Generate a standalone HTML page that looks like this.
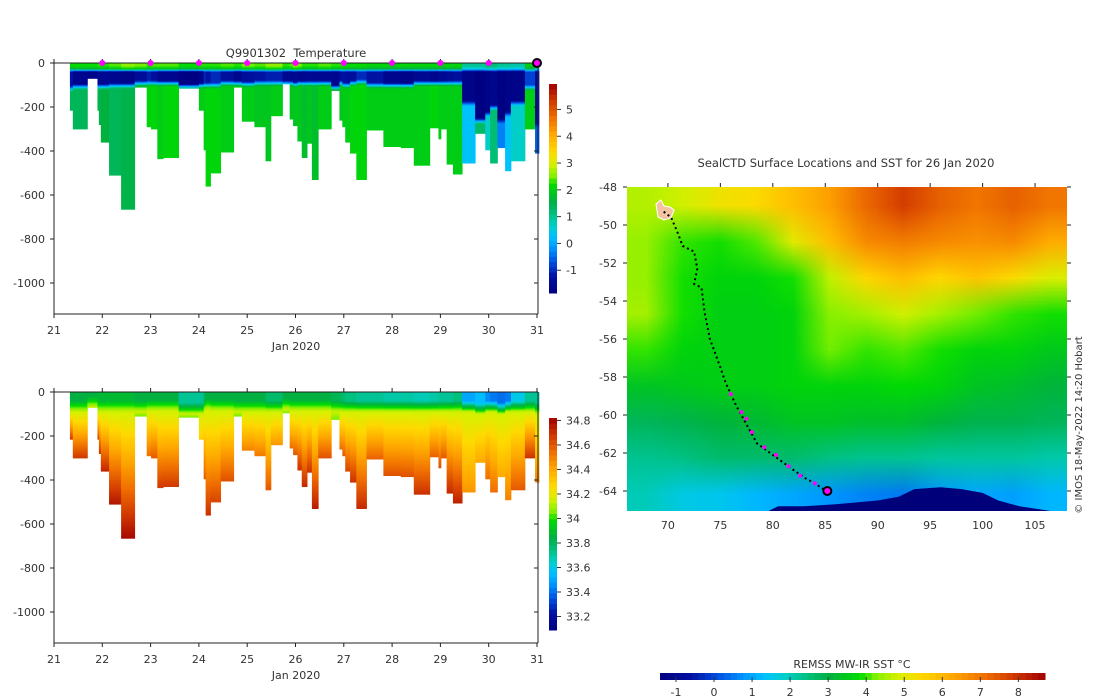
<!DOCTYPE html>
<html><head><meta charset="utf-8">
<style>
html,body{margin:0;padding:0;background:#fff;}
#wrap{position:relative;width:1100px;height:700px;overflow:hidden;font-family:"DejaVu Sans","Liberation Sans",sans-serif;}
svg{position:absolute;left:0;top:0;}
#sst{position:absolute;left:627px;top:187px;width:440px;height:324px;}
text{font-family:"DejaVu Sans","Liberation Sans",sans-serif;fill:#333;font-size:11px;white-space:pre;}
</style></head>
<body>
<div id="wrap">
<canvas id="sst" width="12" height="9"></canvas>
<svg id="svg" width="1100" height="700" viewBox="0 0 1100 700"></svg>
</div>
<script>
// ---- profile data (section plots) ----
const profTime  = [21.33,21.39,21.69,21.90,21.93,21.97,22.14,22.39,22.67,22.92,23.01,23.14,23.26,23.58,24.00,24.10,24.14,24.24,24.45,24.72,24.89,25.15,25.38,25.49,25.73,25.88,25.95,26.04,26.13,26.24,26.34,26.47,26.74,26.91,26.97,27.03,27.13,27.26,27.47,27.82,28.18,28.45,28.78,28.96,29.01,29.13,29.26,29.45,29.72,29.93,30.03,30.18,30.34,30.46,30.75,30.96];
const profDepth = [215,300,70,215,280,360,510,665,110,290,300,435,430,115,215,395,560,500,405,110,265,290,445,240,95,255,285,355,430,365,530,300,125,260,290,360,410,530,305,380,385,465,295,345,300,460,505,455,320,395,455,385,490,445,300,410];
const tSurf     = [2.2,2.2,2.2,2.3,2.3,2.3,2.4,2.6,2.5,2.3,2.4,2.4,2.4,2.2,2.3,2.3,2.3,2.3,2.4,2.3,2.5,2.4,2.6,2.6,2.3,2.4,2.6,2.5,2.3,2.3,2.3,2.4,2.3,2.3,2.3,2.2,2.2,2.2,2.1,2.1,2.1,2.1,2.1,2.1,2.1,2.1,2.1,1.0,1.0,1.2,1.2,1.0,1.0,0.9,2.0,1.2];
const tMin      = [-1.2,-1.6,-1.7,-1.5,-1.5,-1.5,-1.6,-1.7,-1.4,-1.1,-1.3,-1.6,-1.6,-1.8,-1.7,-1.0,-1.2,-1.0,-1.3,-1.6,-1.3,-1.2,-1.1,-1.1,-1.5,-1.6,-1.5,-1.6,-1.6,-1.5,-1.5,-1.5,-1.6,-1.3,-1.2,-1.3,-1.3,-1.0,-1.2,-1.6,-1.7,-1.5,-1.6,-1.5,-1.5,-1.4,-1.3,-1.7,-1.8,-1.7,-1.6,-1.8,-1.7,-1.7,-0.8,-1.4];
const coldBot   = [105,95,95,95,95,95,90,90,80,80,80,80,80,95,90,90,90,90,80,80,85,80,80,80,80,80,85,80,80,80,80,80,100,80,90,90,80,75,90,90,90,80,80,80,80,80,80,170,250,220,190,250,220,170,100,270];
const tDeep     = [1.4,1.4,1.4,1.5,1.5,1.6,1.4,1.5,1.8,2.1,2.1,2.0,2.1,2.0,2.0,2.0,2.1,2.1,2.0,2.0,2.0,1.9,1.9,2.0,2.0,1.9,1.9,1.9,1.8,1.9,1.8,2.0,2.0,1.9,2.0,2.0,2.1,2.1,2.0,2.0,2.0,2.0,2.1,2.0,2.0,2.0,2.0,0.3,1.3,0.7,1.2,-0.3,0.3,0.7,2.0,-0.6];
const sSurf     = [33.85,33.85,33.85,33.88,33.88,33.88,33.88,33.88,33.85,33.85,33.85,33.85,33.85,33.72,33.72,33.82,33.85,33.85,33.85,33.85,33.85,33.85,33.78,33.78,33.85,33.85,33.85,33.85,33.85,33.85,33.85,33.85,33.82,33.80,33.78,33.75,33.75,33.72,33.72,33.70,33.70,33.68,33.70,33.72,33.72,33.72,33.75,33.50,33.55,33.45,33.42,33.40,33.42,33.60,33.72,33.72];
const haloDepth = [60,60,40,60,60,60,60,60,60,55,55,55,55,70,70,55,50,55,55,60,60,60,60,60,50,55,55,55,55,55,55,55,60,60,60,60,60,60,60,60,60,60,60,60,60,60,60,60,70,60,60,70,60,60,60,70];
const sBottom   = [34.68,34.68,34.00,34.68,34.70,34.73,34.77,34.80,34.05,34.55,34.60,34.68,34.68,34.05,34.30,34.60,34.70,34.65,34.62,34.05,34.50,34.52,34.60,34.45,34.05,34.55,34.60,34.70,34.72,34.70,34.75,34.62,34.05,34.55,34.60,34.65,34.70,34.72,34.58,34.62,34.62,34.70,34.58,34.62,34.60,34.72,34.74,34.45,34.40,34.55,34.55,34.40,34.50,34.60,34.70,34.50];
const endTime = 31.04;
const markerDays = [22,23,24,25,26,27,28,29,30];
const dayTicks = [21,22,23,24,25,26,27,28,29,30,31];
const depthTicks = [0,-200,-400,-600,-800,-1000];
const tempCbTicks = [-1,0,1,2,3,4,5];
const salCbTicks = [33.2,33.4,33.6,33.8,34,34.2,34.4,34.6,34.8];
const sstCbTicks = [-1,0,1,2,3,4,5,6,7,8];
const lonTicks = [70,75,80,85,90,95,100,105];
const latTicks = [-48,-50,-52,-54,-56,-58,-60,-62,-64];
// SST grid: rows from -48 (north) to -65, cols from 66E to 108E
const sstGrid = [
 [4.6,4.8,5.2,5.4,5.9,6.4,7.2,7.8,7.3,7.0,7.3,7.0],
 [4.4,4.0,3.9,4.1,5.0,5.9,6.7,6.9,6.7,6.6,6.7,6.2],
 [4.4,3.9,3.7,3.7,3.9,4.7,5.5,5.9,5.5,5.8,5.4,4.9],
 [4.5,3.9,3.6,3.6,3.7,4.3,4.5,4.8,4.5,4.2,4.0,3.9],
 [4.0,3.7,3.6,3.6,3.7,4.2,4.0,4.1,3.9,3.7,3.7,3.5],
 [3.4,3.5,3.6,3.6,3.7,3.7,3.7,3.8,3.7,3.4,3.3,3.1],
 [2.8,2.9,3.1,3.2,3.4,3.4,3.3,3.3,3.1,2.9,2.9,2.8],
 [2.3,2.4,2.6,2.6,2.6,2.4,2.3,2.3,2.2,2.2,2.2,2.1],
 [2.0,1.6,1.5,1.2,1.0,0.8,0.6,0.5,0.8,1.0,0.9,1.2]
];
const trackLon = [69.6,70.3,71.0,71.4,72.5,72.8,72.5,73.2,73.5,74.0,75.0,75.5,76.5,77.5,78.5,80.0,81.5,83.0,84.0,85.1];
const trackLat = [-49.3,-49.6,-50.5,-51.1,-51.4,-52.3,-53.1,-53.3,-54.6,-56.0,-57.5,-58.3,-59.5,-60.5,-61.5,-62.1,-62.7,-63.3,-63.6,-64.0];
const magLon = [76.0,77.0,77.5,78.0,79.2,80.3,81.5,82.6,84.0];
const magLat = [-58.9,-59.85,-60.2,-60.9,-61.7,-62.1,-62.7,-63.2,-63.6];
const iceLon = [79.6,80.5,83,86,88,90,92,93.5,96,98,100,101.5,103.5,106.5];
const iceLat = [-65.1,-64.8,-64.8,-64.7,-64.6,-64.5,-64.3,-63.9,-63.8,-63.9,-64.1,-64.5,-64.8,-65.1];

// ---- colormap ----
const stops=[[0,'#000080'],[0.08,'#0010a0'],[0.15,'#0050e0'],[0.22,'#0098ff'],[0.27,'#00c0ff'],[0.32,'#00d0d0'],[0.38,'#00c080'],[0.44,'#00b040'],[0.52,'#00dc00'],[0.56,'#80f000'],[0.62,'#d8f000'],[0.68,'#ffd800'],[0.76,'#ffa800'],[0.84,'#f07000'],[0.92,'#d03800'],[1,'#a00000']];
function hx(c){return [parseInt(c.slice(1,3),16),parseInt(c.slice(3,5),16),parseInt(c.slice(5,7),16)];}
function cmapRGB(f){f=Math.max(0,Math.min(1,f));for(let i=1;i<stops.length;i++){if(f<=stops[i][0]){const a=stops[i-1],b=stops[i];const t=(f-a[0])/(b[0]-a[0]);const ca=hx(a[1]),cb=hx(b[1]);return ca.map((v,k)=>Math.round(v+(cb[k]-v)*t));}}return hx(stops[stops.length-1][1]);}
function cmap(f){const c=cmapRGB(f);return `rgb(${c[0]},${c[1]},${c[2]})`;}

const NS='http://www.w3.org/2000/svg';
const svg=document.getElementById('svg');
function el(tag,attrs,parent){const e=document.createElementNS(NS,tag);for(const k in attrs)e.setAttribute(k,attrs[k]);(parent||svg).appendChild(e);return e;}
function txt(x,y,s,anchor,parent,size){const t=el('text',{x:x,y:y,'text-anchor':anchor||'middle'},parent);if(size)t.style.fontSize=size+'px';t.textContent=s;return t;}

// axis functions
const X=d=>54+(d-21)*48.3;
const Y1=z=>63+(-z)*0.22;
const Y2=z=>392+(-z)*0.22;
const tempF=v=>(v+1.85)/7.8;
const salF=v=>(v-33.09)/1.73;
const sstF=v=>(v+1.42)/10.12;
const LX=lon=>627+(lon-66.1)*10.49;
const LY=lat=>187+(-48-lat)*19;

function lerp(a,b,t){return a+(b-a)*Math.max(0,Math.min(1,t));}
function tempAt(i,z){
  const s=tSurf[i],m=tMin[i],cb=coldBot[i],d=tDeep[i];
  if(z<15)return s;
  if(z<28)return lerp(s,s-0.6,(z-15)/13);
  if(z<40)return lerp(s-0.6,m,(z-28)/12);
  if(z<cb)return m;
  if(z<cb+25)return lerp(m,d,(z-cb)/25);
  return d;
}
function salAt(i,z){
  const s=sSurf[i],h=haloDepth[i],b=sBottom[i],D=profDepth[i];
  if(z<h-20)return s;
  if(z<h+30)return lerp(s,34.15,(z-(h-20))/50);
  return lerp(34.15,b,(z-(h+30))/Math.max(1,D-(h+30)));
}

function section(Yf,valAt,fF,name){
  const g=el('g',{});
  
  
  for(let i=0;i<profTime.length;i++){
    const x0=X(profTime[i]), x1=X(i+1<profTime.length?profTime[i+1]:endTime);
    const D=profDepth[i];
    for(let z=0;z<D;z+=5){
      const z1=Math.min(D,z+5);
      const r=el('rect',{x:x0.toFixed(2),y:Yf(-z).toFixed(2),width:(x1-x0+0.4).toFixed(2),height:(Yf(-z1)-Yf(-z)+0.4).toFixed(2),fill:cmap(fF(valAt(i,z+2.5)))},g);
      
      
    }
  }
}

function axesBox(Yf,top,bottom,label){
  const g=el('g',{stroke:'#222','stroke-width':1,fill:'none'});
  
  
  el('line',{x1:54,y1:top,x2:54,y2:bottom},g);
  el('line',{x1:54,y1:bottom,x2:538,y2:bottom},g);
  el('line',{x1:538,y1:top,x2:538,y2:bottom},g);
  el('line',{x1:54,y1:top,x2:538,y2:top},g);
  for(const d of dayTicks){el('line',{x1:X(d),y1:bottom,x2:X(d),y2:bottom+4},g);el('line',{x1:X(d),y1:top,x2:X(d),y2:top-4},g);}
  for(const v of depthTicks){const y=Yf(v);el('line',{x1:50,y1:y,x2:54,y2:y},g);el('line',{x1:534,y1:y,x2:538,y2:y},g);}
  const tg=el('g',{});
  
  
  for(const d of dayTicks)txt(X(d),bottom+20,String(d),'middle',tg);
  for(const v of depthTicks)txt(45,Yf(v)+4,String(v),'end',tg);
  const xl=txt(296,bottom+36,'Jan 2020','middle');
  
  
}

function vColorbar(x,y0,y1,vmin,vmax,ticks,name){
  const g=el('g',{});
  
  
  const n=40;
  for(let k=0;k<n;k++){const f=(k+0.5)/n;const yy=y1-(k+1)*(y1-y0)/n;el('rect',{x:x,y:yy.toFixed(2),width:8,height:((y1-y0)/n+0.5).toFixed(2),fill:cmap(f)},g);}
  for(const t of ticks){const y=y1-(t-vmin)/(vmax-vmin)*(y1-y0);el('line',{x1:x+8,y1:y,x2:x+12,y2:y,stroke:'#333'},g);txt(x+17,y+4,String(t),'start',g);}
}

// ---- Temperature section ----
section(Y1,tempAt,tempF,'temperature-section');
axesBox(Y1,63,314,'temperature');
const t1=txt(296,57,'Q9901302  Temperature','middle',null,11.5);


for(const d of markerDays){const m=el('circle',{cx:X(d),cy:63,r:3,fill:'#ff00ff'});}
const lastM=el('circle',{cx:X(31),cy:63,r:4,fill:'#ff00ff',stroke:'#000','stroke-width':2});


vColorbar(549,84,293,-1.85,5.95,tempCbTicks,'temperature-colorbar');

// ---- Salinity section ----
section(Y2,salAt,salF,'salinity-section');
axesBox(Y2,392,643,'salinity');
vColorbar(549,418,630,33.09,34.82,salCbTicks,'salinity-colorbar');

// ---- SST map ----
(function(){
  const c=document.getElementById('sst');const ctx=c.getContext('2d');
  const img=ctx.createImageData(12,9);
  for(let r=0;r<9;r++)for(let q=0;q<12;q++){const col=cmapRGB(sstF(sstGrid[r][q]));const o=(r*12+q)*4;img.data[o]=col[0];img.data[o+1]=col[1];img.data[o+2]=col[2];img.data[o+3]=255;}
  ctx.putImageData(img,0,0);
})();
const mapT=txt(846,167,'SealCTD Surface Locations and SST for 26 Jan 2020','middle',null,11.5);


const ice=el('polygon',{points:iceLon.map((l,i)=>LX(l).toFixed(1)+','+Math.min(511,LY(iceLat[i])).toFixed(1)).join(' '),fill:'#00007a'});


const isl=el('path',{d:'M656,204 L661,200 L664,206 L670,207 L674,210 L671,218 L664,220 L658,217 Z',fill:'#f4c4a0',stroke:'#fff','stroke-width':1});


const trk=el('polyline',{points:trackLon.map((l,i)=>LX(l).toFixed(1)+','+LY(trackLat[i]).toFixed(1)).join(' '),fill:'none',stroke:'#000','stroke-width':2,'stroke-dasharray':'2 3'});


for(let i=0;i<magLon.length;i++){const m=el('circle',{cx:LX(magLon[i]),cy:LY(magLat[i]),r:2,fill:'#ff00ff'});}
const cur=el('circle',{cx:LX(85.2),cy:LY(-64),r:4,fill:'#ff00ff',stroke:'#000','stroke-width':2});


(function(){
  const g=el('g',{stroke:'#222','stroke-width':1,fill:'none'});
  
  
  for(const l of lonTicks){el('line',{x1:LX(l),y1:187,x2:LX(l),y2:183},g);}
  for(const l of latTicks){el('line',{x1:623,y1:LY(l),x2:627,y2:LY(l)},g);el('line',{x1:1067,y1:LY(l),x2:1071,y2:LY(l)},g);}
  const tg=el('g',{});
  
  
  for(const l of lonTicks)txt(LX(l),529,String(l),'middle',tg);
  for(const l of latTicks)txt(617,LY(l)+4,String(l),'end',tg);
})();
const cp=el('text',{x:0,y:0,transform:'translate(1082,425) rotate(-90)','text-anchor':'middle'});
cp.style.fontSize='10px';
cp.textContent='© IMOS 18-May-2022 14:20 Hobart';



// ---- SST colorbar ----
(function(){
  const g=el('g',{});
  
  
  const n=60,x0=660,x1=1045;
  for(let k=0;k<n;k++){el('rect',{x:(x0+k*(x1-x0)/n).toFixed(2),y:673,width:((x1-x0)/n+0.5).toFixed(2),height:7,fill:cmap((k+0.5)/n)},g);}
  for(const t of sstCbTicks){const x=x0+sstF(t)*(x1-x0);el('line',{x1:x,y1:677,x2:x,y2:682,stroke:'#333'},g);txt(x,696,String(t),'middle',g);}
  const tt=txt(852,668,'REMSS MW-IR SST °C','middle',g);
  
  
})();
</script>
</body></html>
